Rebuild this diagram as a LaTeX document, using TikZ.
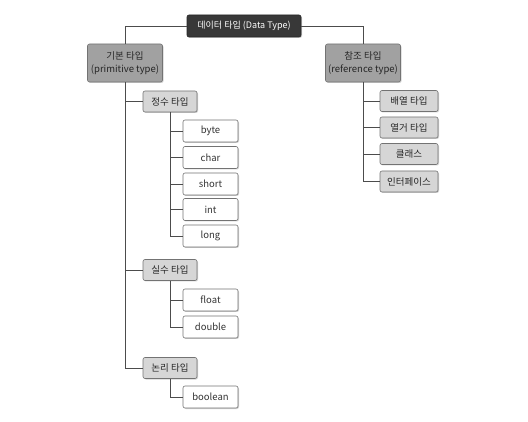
\documentclass[tikz,border=0pt]{standalone}
\usepackage{fontspec}
\setmainfont{Noto Sans CJK KR}
\usetikzlibrary{shadows}

\tikzset{
  basebox/.style={rounded corners=2pt, draw=black!55, line width=0.6pt,
    align=center, inner sep=0pt, font=\fontsize{9.5}{11}\selectfont,
    drop shadow={shadow xshift=1pt, shadow yshift=-1pt, fill=black!35}},
  topbox/.style={basebox, fill=black!78, draw=black!85, text=white,
    font=\fontsize{9}{11}\selectfont,
    minimum width=114pt, minimum height=22pt},
  mainbox/.style={basebox, fill=black!37, text=black!85,
    font=\fontsize{9.5}{13}\selectfont,
    minimum width=75pt, minimum height=38pt},
  subbox/.style={basebox, fill=black!16, text=black!85,
    minimum width=54pt, minimum height=21pt},
  leafbox/.style={basebox, fill=white, text=black!80,
    minimum width=55pt, minimum height=22pt},
  link/.style={draw=black!70, line width=0.7pt}
}

\begin{document}
\begin{tikzpicture}[x=1pt, y=-1pt]
  \useasboundingbox (0,0) rectangle (528,422);

  % top and first level
  \node[topbox] (dtype) at (244,26) {데이터 타입 (Data Type)};
  \node[mainbox] (prim) at (125,63) {기본 타입\\(primitive type)};
  \node[mainbox] (ref) at (363,63) {참조 타입\\(reference type)};

  % primitive groups
  \node[subbox] (integer) at (170,101.5) {정수 타입};
  \node[subbox] (real) at (170,270) {실수 타입};
  \node[subbox] (logic) at (170,368) {논리 타입};

  \node[leafbox] (byte) at (210.5,131) {byte};
  \node[leafbox] (char) at (210.5,157.5) {char};
  \node[leafbox] (short) at (210.5,184) {short};
  \node[leafbox] (int) at (210.5,209.5) {int};
  \node[leafbox] (long) at (210.5,236) {long};

  \node[leafbox] (float) at (210.5,300) {float};
  \node[leafbox] (double) at (210.5,327) {double};

  \node[leafbox] (boolean) at (210.5,397) {boolean};

  % reference kinds
  \node[subbox, minimum width=58pt] (array) at (409,101) {배열 타입};
  \node[subbox, minimum width=58pt] (enum) at (409,127.5) {열거 타입};
  \node[subbox, minimum width=58pt] (class) at (409,154) {클래스};
  \node[subbox, minimum width=58pt] (iface) at (409,181.5) {인터페이스};

  % connectors
  \draw[link] (dtype.west) -| (prim.north);
  \draw[link] (dtype.east) -| (ref.north);

  \foreach \n in {integer, real, logic}
    \draw[link] (prim.south) |- (\n.west);
  \foreach \n in {byte, char, short, int, long}
    \draw[link] (integer.south) |- (\n.west);
  \foreach \n in {float, double}
    \draw[link] (real.south) |- (\n.west);
  \draw[link] (logic.south) |- (boolean.west);
  \foreach \n in {array, enum, class, iface}
    \draw[link] (ref.south) |- (\n.west);
\end{tikzpicture}
\end{document}
